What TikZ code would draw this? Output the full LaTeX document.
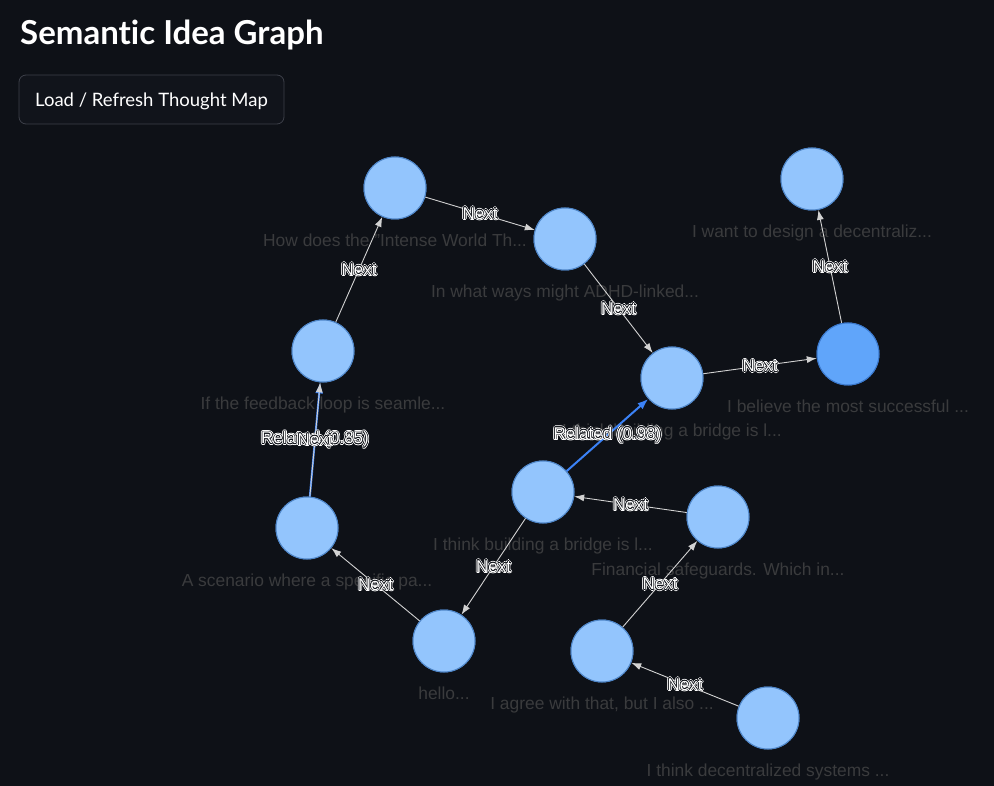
\documentclass[tikz,border=0pt]{standalone}
\usepackage{fontspec}
\setmainfont{Liberation Sans}
\newfontfamily\uifont[Ligatures=NoCommon]{Lato}
\usetikzlibrary{arrows.meta,calc}
\definecolor{bg}{HTML}{0E1117}
\definecolor{nodefill}{HTML}{93C5FD}
\definecolor{nodeborder}{HTML}{4F86C8}
\definecolor{hubfill}{HTML}{60A5FA}
\definecolor{hubborder}{HTML}{3A78CC}
\definecolor{edgecol}{HTML}{D2D2D2}
\definecolor{relcol}{HTML}{3B82F6}
\definecolor{labgray}{HTML}{3A3B3D}
\definecolor{btnborder}{HTML}{3D4049}
\definecolor{btnfill}{HTML}{11141B}
\newcommand\elab[2]{%
  \foreach \ang in {0,30,...,330}{\node[elabtxt,text=white] at ($(#1)+(\ang:1.4)$) {#2};}
  \foreach \ang in {0,45,...,315}{\node[elabtxt,text=bg] at ($(#1)+(\ang:0.6)$) {#2};}
  \node[elabtxt,text=white] at (#1) {#2};}
\begin{document}
\begin{tikzpicture}[x=1pt,y=-1pt,
  idea/.style={circle, minimum size=62pt, inner sep=0pt, fill=nodefill, draw=nodeborder, line width=1pt},
  hub/.style={idea, fill=hubfill, draw=hubborder},
  caption/.style={anchor=base, text=labgray, font=\fontsize{17.4}{19}\selectfont, inner sep=0pt},
  nextedge/.style={draw=edgecol, line width=0.9pt, -{Latex[length=10pt,width=7pt]}},
  reledge/.style={draw=relcol, line width=2pt, -{Latex[length=11pt,width=8pt]}},
  elabtxt/.style={font=\fontsize{17}{19}\selectfont, inner sep=0pt},
]
\fill[bg] (0,0) rectangle (994,786);
\useasboundingbox (0,0) rectangle (994,786);

\node[anchor=base west, inner sep=0pt, text=white, font=\uifont\bfseries\fontsize{33}{38}\selectfont] (title) at (20,45) {Semantic Idea Graph};
\node[draw=btnborder, fill=btnfill, rounded corners=7pt, line width=0.8pt, minimum width=265pt, minimum height=49pt] (btn) at (151.5,99.5) {};
\node[anchor=base, inner sep=0pt, text=white, font=\uifont\fontsize{18.5}{21}\selectfont] (btntext) at (151.5,106.5) {Load / Refresh Thought Map};

% captions
\node[caption] (c1) at (395,246.5) {How does the "Intense World Th...};
\node[caption] (c2) at (565,297.5) {In what ways might ADHD-linked...};
\node[caption] (c3) at (672,436.5) {I think building a bridge is l...};
\node[caption] (c4) at (848,412.5) {I believe the most successful ...};
\node[caption] (c5) at (812,237.5) {I want to design a decentraliz...};
\node[caption] (c6) at (323,409.5) {If the feedback loop is seamle...};
\node[caption] (c7) at (307,586.5) {A scenario where a specific pa...};
\node[caption] (c8) at (444,699.5) {hello...};
\node[caption] (c9) at (543,550.5) {I think building a bridge is l...};
\node[caption] (c10) at (718,575.5) {Financial safeguards. Which in...};
\node[caption] (c11) at (602,709.5) {I agree with that, but I also ...};
\node[caption] (c12) at (768,776.5) {I think decentralized systems ...};

% node positions
\path (395,188) coordinate (p1) (565,239) coordinate (p2) (672,378) coordinate (p3)
      (848,354) coordinate (p4) (812,179) coordinate (p5) (323,351) coordinate (p6)
      (307,528) coordinate (p7) (444,641) coordinate (p8) (543,492) coordinate (p9)
      (718,517) coordinate (p10) (602,651) coordinate (p11) (768,718) coordinate (p12);
\node[idea] (n1) at (p1) {};
\node[idea] (n2) at (p2) {};
\node[idea] (n3) at (p3) {};
\node[hub]  (n4) at (p4) {};
\node[idea] (n5) at (p5) {};
\node[idea] (n6) at (p6) {};
\node[idea] (n7) at (p7) {};
\node[idea] (n8) at (p8) {};
\node[idea] (n9) at (p9) {};
\node[idea] (n10) at (p10) {};
\node[idea] (n11) at (p11) {};
\node[idea] (n12) at (p12) {};

% edges
\draw[nextedge] (n1) -- coordinate[midway] (m12) (n2);
\draw[nextedge] (n2) -- coordinate[midway] (m23) (n3);
\draw[nextedge] (n3) -- coordinate[midway] (m34) (n4);
\draw[nextedge] (n4) -- coordinate[midway] (m45) (n5);
\draw[nextedge] (n6) -- coordinate[midway] (m61) (n1);
\draw[reledge]  (n7) -- coordinate[midway] (r76) (n6);
\draw[nextedge] (n7) -- coordinate[midway] (m76) (n6);
\draw[nextedge] (n8) -- coordinate[midway] (m87) (n7);
\draw[nextedge] (n9) -- coordinate[midway] (m98) (n8);
\draw[reledge]  (n9) -- coordinate[midway] (r93) (n3);
\draw[nextedge] (n10) -- coordinate[midway] (m109) (n9);
\draw[nextedge] (n11) -- coordinate[midway] (m1110) (n10);
\draw[nextedge] (n12) -- coordinate[midway] (m1211) (n11);

% redraw circles above edges
\foreach \i in {1,2,3,5,6,7,8,9,10,11,12}{\node[idea] at (p\i) {};}
\node[hub] at (p4) {};

% edge labels
\elab{m12}{Next}
\elab{m23}{Next}
\elab{m34}{Next}
\elab{m45}{Next}
\elab{m61}{Next}
\elab{r76}{Related (0.85)}
\elab{m76}{Next}
\elab{m87}{Next}
\elab{m98}{Next}
\elab{r93}{Related (0.98)}
\elab{m109}{Next}
\elab{m1110}{Next}
\elab{m1211}{Next}
\end{tikzpicture}
\end{document}
